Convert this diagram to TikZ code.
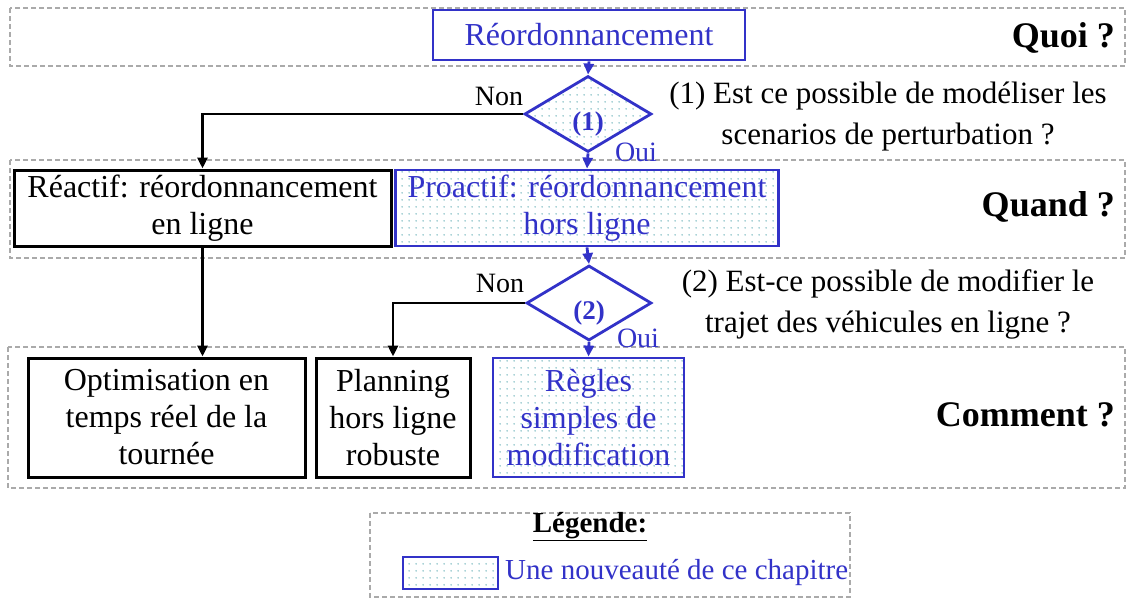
\documentclass[tikz,border=0pt]{standalone}
\usepackage{fontspec}
\setmainfont{Liberation Serif}
\usetikzlibrary{shapes.geometric,arrows.meta,patterns.meta,calc}
\definecolor{myblue}{RGB}{50,50,200}
\definecolor{dotc}{RGB}{140,195,200}
\definecolor{bandgray}{RGB}{170,170,170}
\pgfdeclarepattern{name=mydots,type=uncolored,bottom left={\pgfpoint{0pt}{0pt}},top right={\pgfpoint{7pt}{7pt}},tile size={\pgfpoint{7pt}{7pt}},code={\pgfpathcircle{\pgfpoint{3.5pt}{3.5pt}}{1pt}\pgfusepath{fill}}}
\tikzset{
  band/.style={draw=bandgray, dash pattern=on 5pt off 3pt, line width=1.5pt},
  txt/.style={font=\fontsize{32}{37}\selectfont, align=center, inner sep=0pt},
  blk/.style={txt, draw=black, line width=3pt, fill=white},
  nouv/.style={txt, draw=myblue, line width=2.8pt, text=myblue, pattern={mydots}, pattern color=dotc},
  plainblue/.style={txt, draw=myblue, line width=2.8pt, text=myblue, fill=white},
  dia/.style={diamond, draw=myblue, line width=2.8pt, inner sep=0pt},
  lab/.style={font=\fontsize{28}{32}\selectfont, inner sep=0pt},
  qlab/.style={font=\fontsize{31}{41}\selectfont, align=center, inner sep=0pt},
  head/.style={font=\bfseries\fontsize{36}{40}\selectfont, inner sep=0pt, anchor=east},
  arr/.style={line width=2.8pt, -{Triangle[length=11pt,width=10pt]}},
}
\begin{document}
\begin{tikzpicture}[x=1pt,y=-1pt]
\useasboundingbox (0,0) rectangle (1128,602);
% bands
\draw[band] (10,8) rectangle (1125,66);
\draw[band] (10,160) rectangle (1125,258);
\draw[band] (8,347) rectangle (1125,488);
\draw[band] (370,513) rectangle (850,597);
% headings
\node[head] (hq) at (1115,38) {Quoi ?};
\node[head] (hw) at (1115,207) {Quand ?};
\node[head] (hc) at (1115,415) {Comment ?};
% nodes
\node[plainblue, minimum width=312pt, minimum height=50pt] (reord) at (589,35) {Réordonnancement};
\node[dia, pattern={mydots}, pattern color=dotc, minimum width=127pt, minimum height=76pt] (d1) at (588,114) {};
\node[font=\bfseries\fontsize{27}{30}\selectfont, text=myblue, inner sep=0pt] (d1t) at (588,124) {(1)};
\node[blk, minimum width=377pt, minimum height=76pt] (reac) at (202.5,208) {Réactif: réordonnancement\\en ligne};
\node[nouv, minimum width=383pt, minimum height=76pt] (proa) at (587,208) {Proactif: réordonnancement\\hors ligne};
\node[dia, fill=white, minimum width=125pt, minimum height=75pt] (d2) at (589,303) {};
\node[font=\bfseries\fontsize{27}{30}\selectfont, text=myblue, inner sep=0pt] (d2t) at (589,313) {(2)};
\node[blk, minimum width=277pt, minimum height=119pt] (opt) at (166.5,417.5) {Optimisation en\\temps réel de la\\tournée};
\node[blk, minimum width=154pt, minimum height=119pt] (plan) at (393,417.5) {Planning\\hors ligne\\robuste};
\node[nouv, minimum width=191pt, minimum height=119pt] (regl) at (588.5,417.5) {Règles\\simples de\\modification};
% labels
\node[lab] (non1) at (499,96) {Non};
\node[lab, text=myblue] (oui1) at (636,152) {Oui};
\node[lab] (non2) at (500,283) {Non};
\node[lab, text=myblue] (oui2) at (638,338) {Oui};
\node[qlab] (q1) at (888,117) {(1) Est ce possible de modéliser les\\scenarios de perturbation ?};
\node[qlab] (q2) at (888,304) {(2) Est-ce possible de modifier le\\trajet des véhicules en ligne ?};
% connectors
\draw[arr, myblue] (reord.south) -- (d1.north);
\draw[arr, myblue] (d1.south) -- (proa.north);
\draw[arr] (d1.west) -| (reac.north);
\draw[arr, myblue] (proa.south) -- (d2.north);
\draw[arr, myblue] (d2.south) -- (regl.north);
\draw[arr] (d2.west) -| (plan.north);
\draw[arr] (reac.south) -- (reac.south |- opt.north);
% legend
\node[font=\bfseries\fontsize{29}{32}\selectfont, inner sep=0pt] (lt) at (590,527) {\underline{Légende:}};
\node[draw=myblue, line width=2.8pt, pattern={mydots}, pattern color=dotc, minimum width=95pt, minimum height=32pt, inner sep=0pt] (lsq) at (450.5,573) {};
\node[lab, font=\fontsize{29}{32}\selectfont, text=myblue, anchor=west] (ltx) at (505,573) {Une nouveauté de ce chapitre};
\end{tikzpicture}
\end{document}
